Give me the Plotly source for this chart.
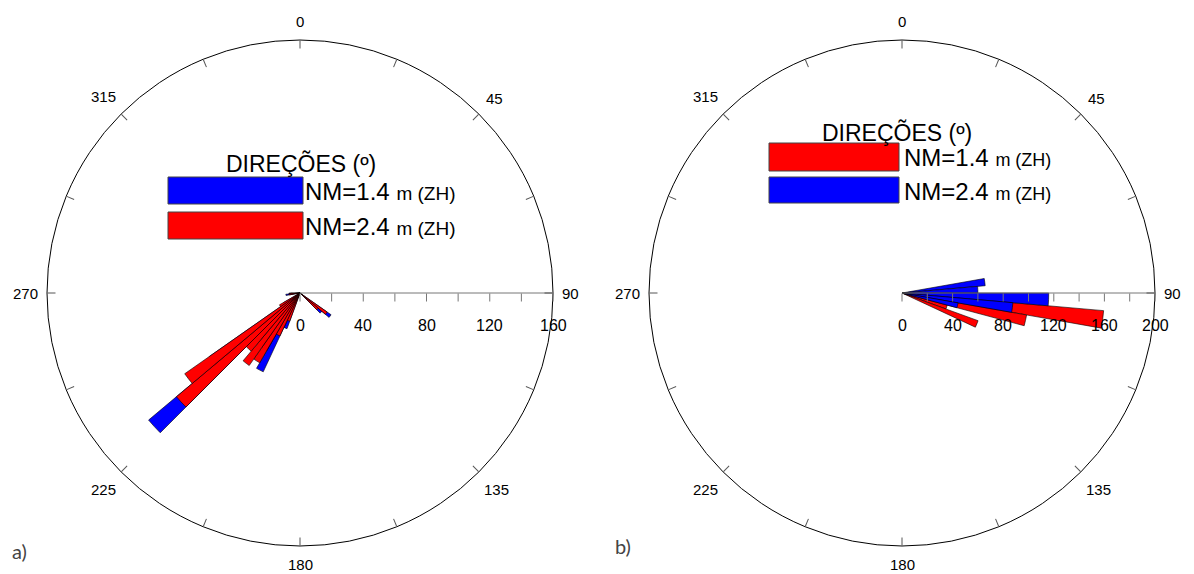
import math
import plotly.graph_objects as go

# ---------------- data ----------------
# a) direction bins (deg, 5-degree wide) and lengths
theta_a = [127.5, 132.5, 202.5, 207.5, 212.5, 217.5, 222.5, 227.5, 232.5, 237.5, 262.5, 267.5]
blue_a = [24, 18, 24, 55, 42, 40, 38, 125, 70, 12, 9, 7]     # NM=1.4 m (ZH)
red_a = [21, 15, 19, 30, 51, 56, 48, 102, 89, 15, 7, 6]      # NM=2.4 m (ZH)

# b)
theta_b = [77.5, 82.5, 87.5, 92.5, 97.5, 102.5, 107.5, 112.5]
red_b = [0, 0, 0, 0, 160, 100, 37, 64]                      # NM=1.4 m (ZH)
blue_b = [0, 66, 60, 116, 88, 45, 0, 0]                     # NM=2.4 m (ZH)

ang_ticks = [i * 22.5 for i in range(16)]
ang_labels = [0, 45, 90, 135, 180, 225, 270, 315]

rad_ticks_a = list(range(0, 161, 20))
rad_labels_a = [0, 40, 80, 120, 160]
rad_ticks_b = list(range(0, 201, 20))
rad_labels_b = [0, 40, 80, 120, 160, 200]

legend_title = "DIREÇÕES (º)"
label_14 = "NM=1.4"
label_24 = "NM=2.4"
unit = "m (ZH)"

BLUE = "#0000FF"
RED = "#FF0000"
W, H = 1194, 574
FONT = "Liberation Sans, Arial, sans-serif"

fig = go.Figure()

def bars(theta, r, color, sub, name):
    fig.add_trace(go.Barpolar(
        theta=theta, r=r, width=[5] * len(theta), name=name,
        marker=dict(color=color, line=dict(color="black", width=0.6)),
        subplot=sub, showlegend=False, opacity=1))

bars(theta_a, blue_a, BLUE, "polar", "NM=1.4 m (ZH)")
bars(theta_a, red_a, RED, "polar", "NM=2.4 m (ZH)")
bars(theta_b, red_b, RED, "polar2", "NM=1.4 m (ZH)")
bars(theta_b, blue_b, BLUE, "polar2", "NM=2.4 m (ZH)")

def px(x, y):
    return x / W, 1 - y / H

shapes = []
annotations = []

def text(x, y, s, size, xanchor="left", family=FONT, color="black", yanchor="middle"):
    a, b = px(x, y)
    annotations.append(dict(xref="paper", yref="paper", x=a, y=b, text=s,
                            showarrow=False, xanchor=xanchor, yanchor=yanchor,
                            font=dict(family=family, size=size, color=color)))

def polar_layout(cx, cy, R, rmax, ticks, labels):
    x0, y0 = px(cx - R, cy + R)
    x1, y1 = px(cx + R, cy - R)
    # angular labels outside the circle
    for a in ang_labels:
        s = str(a)
        w = 0.556 * 15 * len(s)
        h = 11
        sa, ca = math.sin(math.radians(a)), math.cos(math.radians(a))
        d = R + 9 + abs(sa) * w / 2 + abs(ca) * h / 2 + 4 * abs(ca)
        text(cx + d * sa, cy - d * ca, s, 15, xanchor="center")
    # radial labels below the radial axis
    for v in labels:
        text(cx + v / rmax * R, cy + 32, str(v), 16, xanchor="center")
    return dict(
        domain=dict(x=[x0, x1], y=[y0, y1]),
        bgcolor="white",
        barmode="overlay",
        angularaxis=dict(
            rotation=90, direction="clockwise",
            tickmode="array", tickvals=ang_ticks, showticklabels=False,
            ticks="inside", ticklen=8, tickcolor="#555", tickwidth=1,
            showline=True, linecolor="black", linewidth=1,
            showgrid=False,
        ),
        radialaxis=dict(
            range=[0, rmax], angle=0, side="clockwise",
            tickmode="array", tickvals=ticks, showticklabels=False,
            ticks="outside", ticklen=8, tickcolor="#777", tickwidth=1,
            showline=True, linecolor="#777", linewidth=1,
            showgrid=False,
        ),
    )

def rect(x0, y0, x1, y1, color):
    a, b = px(x0, y0)
    c, d = px(x1, y1)
    shapes.append(dict(type="rect", xref="paper", yref="paper",
                       x0=a, x1=c, y0=d, y1=b, fillcolor=color,
                       line=dict(color="#444", width=1)))

def entry(label, size_u):
    return f"{label} <span style='font-size:{size_u}px'>{unit}</span>"

polar_a = polar_layout(300, 293, 253, 160, rad_ticks_a, rad_labels_a)
polar_b = polar_layout(902, 293, 253, 200, rad_ticks_b, rad_labels_b)

# legend a)
text(301, 163, legend_title, 23, xanchor="center")
rect(168, 177, 303, 204, BLUE)
rect(168, 212, 303, 239, RED)
text(303, 191, entry(label_14, 19), 24)
text(303, 226, entry(label_24, 19), 24)

# legend b)
text(897, 132, legend_title, 23, xanchor="center")
rect(769, 143, 899, 171, RED)
rect(769, 177, 899, 203, BLUE)
text(902, 158, entry(label_14, 18), 24)
text(902, 191, entry(label_24, 18), 24)

# panel labels
text(10, 551, "a)", 20, family="Lato, sans-serif", color="#444")
text(613, 546, "b)", 20, family="Lato, sans-serif", color="#444")

fig.update_layout(
    width=W, height=H, autosize=False,
    margin=dict(l=0, r=0, t=0, b=0),
    paper_bgcolor="white", plot_bgcolor="white",
    polar=polar_a, polar2=polar_b,
    shapes=shapes, annotations=annotations,
    showlegend=False,
)

fig.write_html(
    "out.html",
    config={"displayModeBar": False},
    post_script="document.body.style.margin='0';document.body.style.overflow='hidden';",
)
